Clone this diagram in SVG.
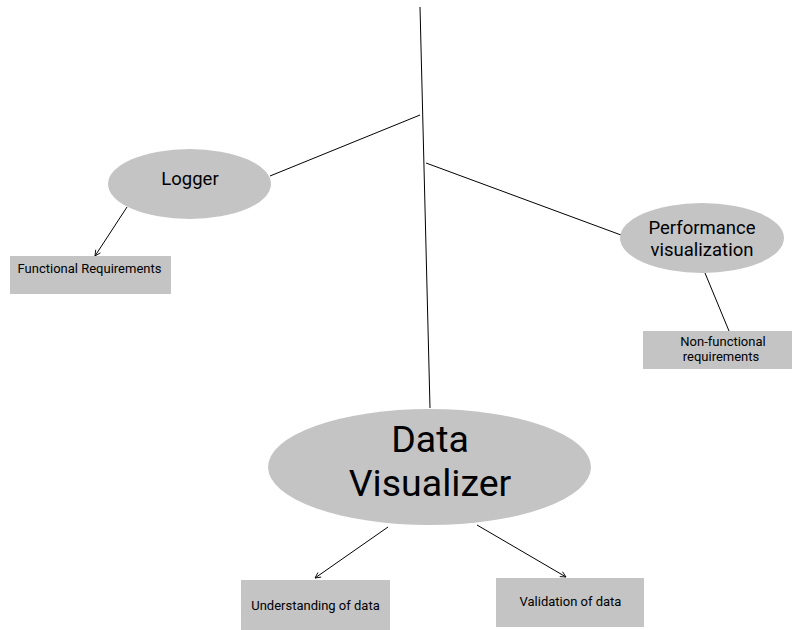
<svg xmlns="http://www.w3.org/2000/svg" width="792" height="630" viewBox="0 0 792 630">
<defs>
<style>
.shape{fill:#c4c4c4;stroke:none}
.ln{stroke:#000;stroke-width:1;fill:none}
.t{font-family:Roboto,"Liberation Sans",sans-serif;fill:#000;text-anchor:middle}
.s{font-size:13px}
</style>
<marker id="arr" viewBox="0 0 10 10" refX="9" refY="5" markerWidth="7" markerHeight="7" orient="auto" markerUnits="userSpaceOnUse">
<path d="M1,1 L9,5 L1,9" fill="none" stroke="#000" stroke-width="1.2"/>
</marker>
</defs>
<rect width="792" height="630" fill="#fff"/>
<g id="connectors">
<line class="ln" x1="420" y1="7" x2="430" y2="408"/>
<line class="ln" x1="270" y1="176" x2="420" y2="115"/>
<line class="ln" x1="426" y1="163" x2="621" y2="235"/>
<line class="ln" x1="127" y1="207" x2="95" y2="256" marker-end="url(#arr)"/>
<line class="ln" x1="705" y1="273" x2="729" y2="331"/>
<line class="ln" x1="388" y1="527" x2="315" y2="578" marker-end="url(#arr)"/>
<line class="ln" x1="477" y1="525" x2="566" y2="577" marker-end="url(#arr)"/>
</g>
<g id="logger">
<ellipse class="shape" cx="189.5" cy="184" rx="81.5" ry="35"/>
<text class="t" x="190" y="185" font-size="18.5">Logger</text>
</g>
<g id="functional">
<rect class="shape" x="10" y="256" width="161" height="38"/>
<text class="t s" x="89.5" y="273">Functional Requirements</text>
</g>
<g id="performance">
<ellipse class="shape" cx="702" cy="238" rx="82" ry="35"/>
<text class="t" x="702" y="234" font-size="18.5">Performance</text>
<text class="t" x="702" y="256" font-size="18.5">visualization</text>
</g>
<g id="nonfunctional">
<rect class="shape" x="643" y="331" width="149" height="38"/>
<text class="t s" x="723" y="346">Non-functional</text>
<text class="t s" x="721" y="361">requirements</text>
</g>
<g id="datavisualizer">
<ellipse class="shape" cx="429.5" cy="467" rx="161.5" ry="58"/>
<text class="t" x="430" y="452" font-size="37.5">Data</text>
<text class="t" x="430" y="496" font-size="37.5">Visualizer</text>
</g>
<g id="understanding">
<rect class="shape" x="241" y="580" width="149" height="50"/>
<text class="t s" x="315.5" y="610">Understanding of data</text>
</g>
<g id="validation">
<rect class="shape" x="496" y="578" width="148" height="49"/>
<text class="t s" x="570.5" y="606">Validation of data</text>
</g>
</svg>
